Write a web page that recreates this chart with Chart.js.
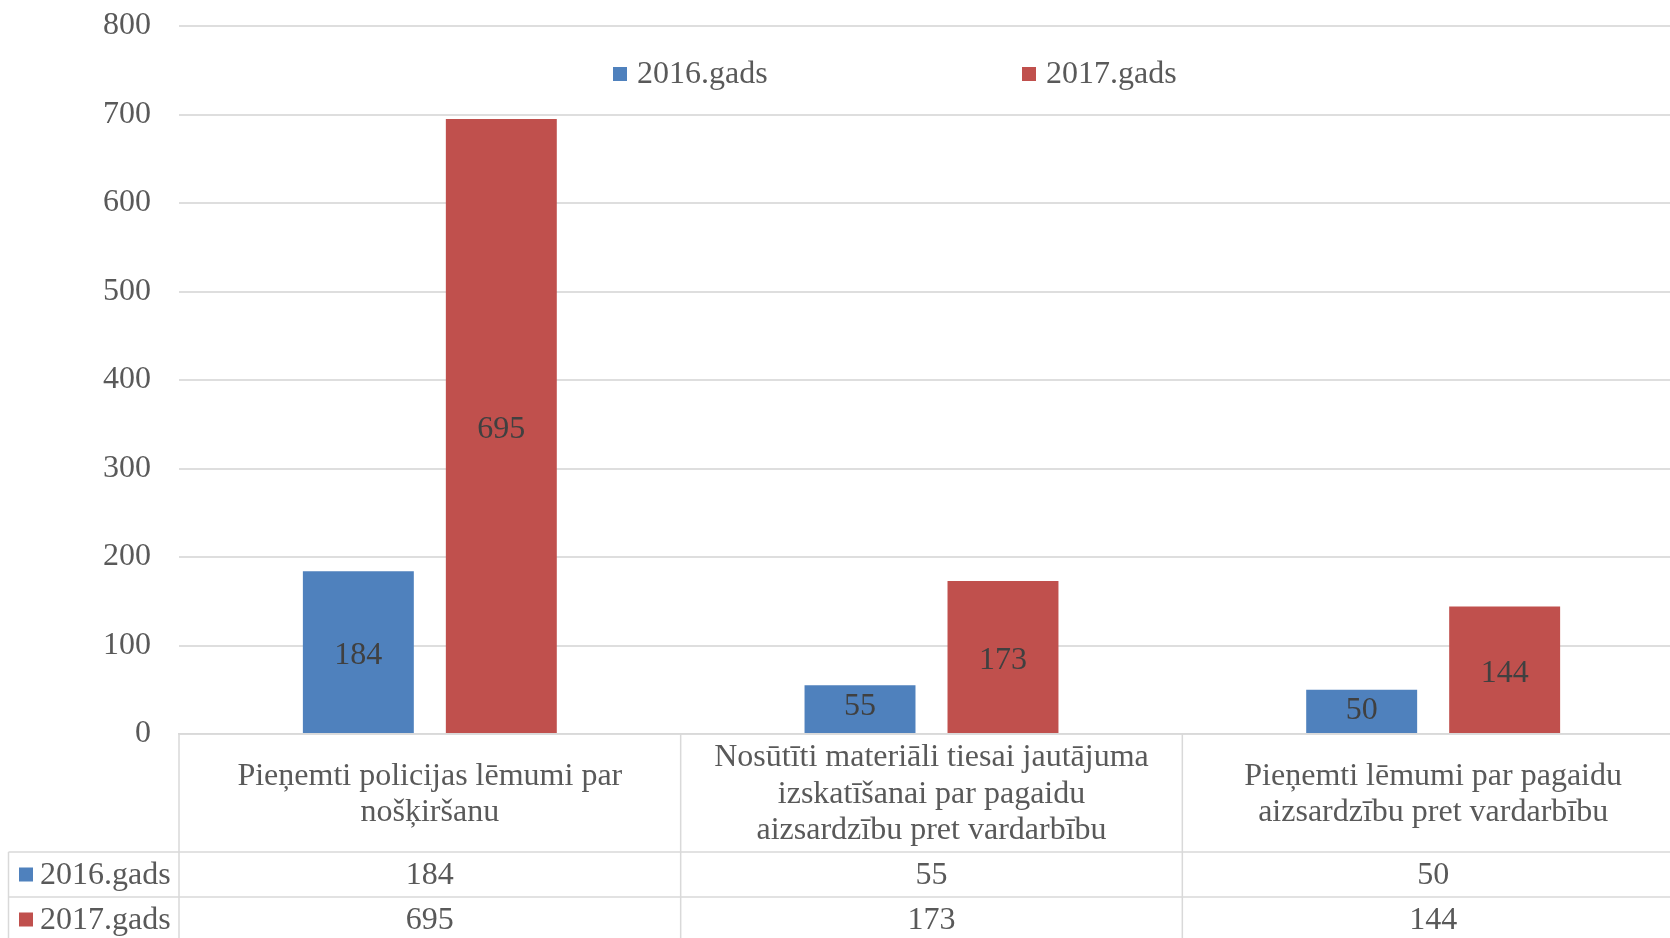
<!DOCTYPE html>
<html>
<head>
<meta charset="utf-8">
<script src="https://cdn.jsdelivr.net/npm/chart.js@4/dist/chart.umd.min.js"></script>
<style>
html, body { margin: 0; padding: 0; background: #fff; overflow: hidden; }
#wrap { position: relative; width: 1684px; height: 938px; }
</style>
</head>
<body>
<div id="wrap"><canvas id="grafica"></canvas></div>
<script>
var categories = [
    ['Pieņemti policijas lēmumi par', 'nošķiršanu'],
    ['Nosūtīti materiāli tiesai jautājuma', 'izskatīšanai par pagaidu', 'aizsardzību pret vardarbību'],
    ['Pieņemti lēmumi par pagaidu', 'aizsardzību pret vardarbību']
];
var seriesNames = ['2016.gads', '2017.gads'];
var values2016 = [184, 55, 50];
var values2017 = [695, 173, 144];
var yMin = 0, yMax = 800, yStep = 100;

var colors = ['#4F81BD', '#C0504D'];
var FONT = "32px 'Liberation Serif', 'Times New Roman', serif";
var textColor = '#595959';
var lineColor = '#d9d9d9';

// data labels, legend and the data table under the axis
var tablePlugin = {
    id: 'tablePlugin',
    afterDatasetsDraw: function (chart) {
        var ctx = chart.ctx;
        ctx.save();
        ctx.font = FONT;
        ctx.fillStyle = '#404040';
        ctx.textAlign = 'center';
        ctx.textBaseline = 'middle';
        chart.data.datasets.forEach(function (ds, di) {
            chart.getDatasetMeta(di).data.forEach(function (bar, i) {
                var h = bar.base - bar.y;
                var y = (bar.y + bar.base) / 2;
                if (h < 60) y = Math.min(y, bar.y + 17);
                ctx.fillText(String(ds.data[i]), bar.x, y + 4);
            });
        });
        ctx.restore();
    },
    afterDraw: function (chart) {
        var ctx = chart.ctx;
        var area = chart.chartArea;
        var xs = chart.scales.x;
        var headBottom = xs.bottom;
        var rowH = 45;
        var tableLeft = 8.5;
        var catW = (area.right - area.left) / categories.length;
        ctx.save();
        ctx.strokeStyle = lineColor;
        ctx.lineWidth = 1.5;
        ctx.beginPath();
        for (var r = 0; r < 2; r++) {
            var yy = headBottom + r * rowH;
            ctx.moveTo(tableLeft, yy);
            ctx.lineTo(chart.width, yy);
        }
        for (var i = 0; i <= categories.length; i++) {
            var xx = area.left + i * catW;
            ctx.moveTo(xx, area.bottom);
            ctx.lineTo(xx, chart.height);
        }
        ctx.moveTo(tableLeft, headBottom);
        ctx.lineTo(tableLeft, chart.height);
        ctx.stroke();

        ctx.font = FONT;
        ctx.textBaseline = 'middle';
        chart.data.datasets.forEach(function (ds, di) {
            var cy = headBottom + di * rowH + rowH / 2;
            ctx.fillStyle = ds.backgroundColor;
            ctx.fillRect(19, cy - 7, 14, 14);
            ctx.fillStyle = textColor;
            ctx.textAlign = 'left';
            ctx.fillText(ds.label, 40, cy + 1);
            ctx.textAlign = 'center';
            ds.data.forEach(function (v, i) {
                ctx.fillText(String(v), xs.getPixelForValue(i), cy + 1);
            });
        });

        // legend inside the plot, top
        var legendX = [area.left + 434, area.left + 843];
        var ly = 74;
        chart.data.datasets.forEach(function (ds, di) {
            ctx.fillStyle = ds.backgroundColor;
            ctx.fillRect(legendX[di], ly - 7, 14, 14);
            ctx.fillStyle = textColor;
            ctx.textAlign = 'left';
            ctx.fillText(ds.label, legendX[di] + 24, ly + 1);
        });
        ctx.restore();
    }
};

var ctx = document.getElementById('grafica').getContext('2d');
var chart = new Chart(ctx, {
    type: 'bar',
    data: {
        labels: categories,
        datasets: [
            { label: seriesNames[0], data: values2016, backgroundColor: colors[0] },
            { label: seriesNames[1], data: values2017, backgroundColor: colors[1] }
        ]
    },
    options: {
        responsive: true,
        maintainAspectRatio: false,
        animation: false,
        categoryPercentage: 0.57,
        barPercentage: 0.776,
        layout: { padding: { top: 26, left: 0, right: 0, bottom: 86 } },
        scales: {
            x: {
                grid: { display: false, drawTicks: false },
                border: { display: true, color: lineColor, width: 1.5 },
                ticks: {
                    font: { family: "'Liberation Serif', 'Times New Roman', serif", size: 32, lineHeight: 1.14 },
                    color: textColor,
                    padding: 24,
                    crossAlign: 'center',
                    maxRotation: 0,
                    autoSkip: false
                },
                afterFit: function (scale) { scale.height = 118; }
            },
            y: {
                min: yMin,
                max: yMax,
                grid: { color: '#dedede', lineWidth: 2, drawTicks: true, tickLength: 28, tickColor: 'rgba(0,0,0,0)' },
                border: { display: false },
                ticks: {
                    stepSize: yStep,
                    font: { family: "'Liberation Serif', 'Times New Roman', serif", size: 32 },
                    color: textColor,
                    padding: 0
                },
                afterFit: function (scale) { scale.width = 179; }
            }
        },
        plugins: {
            legend: { display: false },
            tooltip: { enabled: false }
        }
    },
    plugins: [tablePlugin]
});
</script>
</body>
</html>
